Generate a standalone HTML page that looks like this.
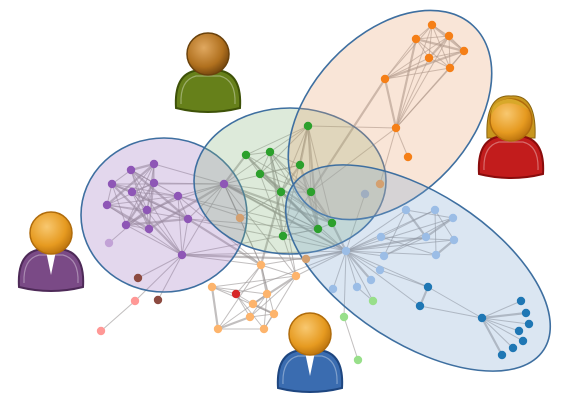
<!DOCTYPE html>
<html><head><meta charset="utf-8">
<style>
html,body{margin:0;padding:0;background:#fff;}
svg{display:block;font-family:"Liberation Sans",sans-serif;}
</style></head>
<body>
<svg id="g" width="568" height="405" viewBox="0 0 568 405" xmlns="http://www.w3.org/2000/svg">
<defs>
<radialGradient id="skin" cx="40%" cy="35%" r="65%"><stop offset="0" stop-color="#f8c870"/><stop offset="0.7" stop-color="#e69a20"/><stop offset="1" stop-color="#c07810"/></radialGradient>
<radialGradient id="skinb" cx="40%" cy="35%" r="65%"><stop offset="0" stop-color="#e0a860"/><stop offset="0.7" stop-color="#b0701e"/><stop offset="1" stop-color="#7a4a10"/></radialGradient>
</defs>
<g id="edges"></g>
<g id="hulls"></g>
<g id="nodes"></g>
<g id="people"></g>
</svg>
<script>
const NS="http://www.w3.org/2000/svg";
// node data: x, y, color group
const nodeX=[131,154,112,132,154,178,107,147,188,126,149,182,109,224, 308,246,270,300,260,281,311,283,318,332, 432,416,449,464,429,450,385,396,408, 240,380,306,365, 261,296,212,267,253,274,250,218,264,236, 346,406,435,453,381,426,454,384,436,380,371,357,333, 373,344,358, 428,420,482,521,526,529,519,523,513,502, 138,158,135,101];
const nodeY=[170,164,184,192,183,196,205,210,219,225,229,255,243,184, 126,155,152,165,174,192,192,236,229,223, 25,39,36,51,58,68,79,128,157, 218,184,259,194, 265,276,287,294,304,314,317,329,329,294, 251,210,210,218,237,237,240,256,255,270,280,287,289, 301,317,360, 287,306,318,301,313,324,331,341,348,355, 278,300,301,331];
const nodeGroup=[0,0,0,0,0,0,0,0,0,0,0,0,1,0, 2,2,2,2,2,2,2,2,2,2, 3,3,3,3,3,3,3,3,3, 4,4,4,5, 6,6,6,6,6,6,6,6,6,7, 8,8,8,8,8,8,8,8,8,8,8,8,8, 9,9,9, 10,10,10,10,10,10,10,10,10,10, 11,11,12,12];
const groupColors=["#8e56b6","#c2a2d6","#2ca02c","#f57f17","#d4a070","#a0aec0","#fdb46c","#d62728","#9bbde6","#98df8a","#1f77b4","#8c4a40","#ff9896"];
// edges as index pairs
const edgeFrom=[];const edgeTo=[];
function addE(a,b){edgeFrom.push(a);edgeTo.push(b);}
const purple=[0,1,2,3,4,5,6,7,8,9,10,11,13];
for(let i=0;i<purple.length;i++)for(let j=i+1;j<purple.length;j++)if((i+j)%3!==0)addE(purple[i],purple[j]);
addE(12,7);addE(11,73);addE(11,74);addE(11,35);addE(75,76);addE(11,75);
const green=[14,15,16,17,18,19,20,21,22,23];
for(let i=0;i<green.length;i++)for(let j=i+1;j<green.length;j++)if((i*j)%2===0)addE(green[i],green[j]);
const orange=[24,25,26,27,28,29,30];
for(let i=0;i<orange.length;i++)for(let j=i+1;j<orange.length;j++)addE(orange[i],orange[j]);
[24,25,26,27,28,29,30,32,34,20].forEach(n=>addE(31,n));
const lo=[37,38,39,40,41,42,43,44,45,46];
for(let i=0;i<lo.length;i++)for(let j=i+1;j<lo.length;j++)if((i+j)%2===1)addE(lo[i],lo[j]);
const lb=[48,49,50,51,52,53,54,55];
for(let i=0;i<lb.length;i++)for(let j=i+1;j<lb.length;j++)if((i+j)%2===0)addE(lb[i],lb[j]);
[48,49,50,51,52,53,54,55,56,57,58,59,60,61,35,36,13,19,22,23,38,37,63,64].forEach(n=>addE(47,n));
[15,16,17,19,22,23,33,37,38].forEach(n=>{addE(13,n);addE(19,n);});
[13,11,8,5].forEach(n=>{addE(n,22);addE(n,37);addE(n,47);});
addE(63,64);addE(63,65);addE(64,65);addE(56,63);
[66,67,68,69,70,71,72].forEach(n=>addE(65,n));
addE(61,62);addE(58,60);addE(21,38);addE(14,31);addE(30,20);addE(46,47);

const eg=document.getElementById('edges');
for(let k=0;k<edgeFrom.length;k++){
  const a=edgeFrom[k],b=edgeTo[k];if(a===b||nodeX[a]===undefined||nodeX[b]===undefined)continue;
  const l=document.createElementNS(NS,'line');
  l.setAttribute('x1',nodeX[a]);l.setAttribute('y1',nodeY[a]);
  l.setAttribute('x2',nodeX[b]);l.setAttribute('y2',nodeY[b]);
  l.setAttribute('stroke','#9a9494');l.setAttribute('stroke-opacity','0.6');
  l.setAttribute('stroke-width',(k%5===0)?2.2:1);
  
  
  eg.appendChild(l);
}
// community ellipses
const hullCx=[164,290,390,418];
const hullCy=[215,181,115,268];
const hullRx=[83,96,122,150];
const hullRy=[77,73,80,75];
const hullAngle=[0,0,-47,33];
const hullFill=["#9b6fc0","#84b27a","#e8a070","#7fa6d0"];
const hullNames=["purple-community","green-community","orange-community","blue-community"];
const hg=document.getElementById('hulls');
for(let i=0;i<hullCx.length;i++){
  const e=document.createElementNS(NS,'ellipse');
  e.setAttribute('cx',hullCx[i]);e.setAttribute('cy',hullCy[i]);
  e.setAttribute('rx',hullRx[i]);e.setAttribute('ry',hullRy[i]);
  e.setAttribute('transform','rotate('+hullAngle[i]+' '+hullCx[i]+' '+hullCy[i]+')');
  e.setAttribute('fill',hullFill[i]);e.setAttribute('fill-opacity','0.28');
  e.setAttribute('stroke','#3e6fa0');e.setAttribute('stroke-width','1.6');
  
  
  hg.appendChild(e);
}
const ng=document.getElementById('nodes');
for(let i=0;i<nodeX.length;i++){
  const c=document.createElementNS(NS,'circle');
  c.setAttribute('cx',nodeX[i]);c.setAttribute('cy',nodeY[i]);c.setAttribute('r',4.2);
  c.setAttribute('fill',groupColors[nodeGroup[i]]);
  
  
  ng.appendChild(c);
}
const avX=[208,511,51,310];
const avY=[54,120,233,334];
const avBody=["#66801a","#c21c1c","#7a4a86","#3a6cb0"];
const avDark=["#3e5208","#8a0c0c","#4e2a58","#1e4680"];
const avNames=["olive-person","red-person","purple-person","blue-person"];
const pg=document.getElementById('people');
for(let i=0;i<avX.length;i++){
  const g=document.createElementNS(NS,'g');
  
  
  const x=avX[i],y=avY[i];
  if(i===1){
    const h=document.createElementNS(NS,'path');
    h.setAttribute('d',`M${x-24},${y+18} Q${x-26},${y-26} ${x},${y-24} Q${x+26},${y-26} ${x+24},${y+18} Z`);
    h.setAttribute('fill','#c8961e');h.setAttribute('stroke','#8a6410');
    g.appendChild(h);
  }
  const b=document.createElementNS(NS,'path');
  b.setAttribute('d',`M${x-32},${y+54} Q${x-34},${y+22} ${x-14},${y+17} L${x+14},${y+17} Q${x+34},${y+22} ${x+32},${y+54} Q${x},${y+62} ${x-32},${y+54} Z`);
  b.setAttribute('fill',avBody[i]);b.setAttribute('stroke',avDark[i]);b.setAttribute('stroke-width','2');
  g.appendChild(b);
  const b2=document.createElementNS(NS,'path');
  b2.setAttribute('d',`M${x-27},${y+50} Q${x-28},${y+26} ${x-12},${y+22} L${x+12},${y+22} Q${x+28},${y+26} ${x+27},${y+50}`);
  b2.setAttribute('fill','none');b2.setAttribute('stroke','#ffffff');b2.setAttribute('stroke-opacity','0.35');b2.setAttribute('stroke-width','1.2');
  g.appendChild(b2);
  if(i===2||i===3){
    const s=document.createElementNS(NS,'path');
    s.setAttribute('d',`M${x-5},${y+18} L${x},${y+42} L${x+5},${y+18} Z`);
    s.setAttribute('fill','#ffffff');
    g.appendChild(s);
  }
  const c=document.createElementNS(NS,'circle');
  c.setAttribute('cx',x);c.setAttribute('cy',y);c.setAttribute('r',21);
  c.setAttribute('fill',i===0?'url(#skinb)':'url(#skin)');c.setAttribute('stroke',i===0?'#6a420c':'#b06c0c');c.setAttribute('stroke-width','1.5');
  g.appendChild(c);
  if(i===1){
    const f=document.createElementNS(NS,'path');
    f.setAttribute('d',`M${x-20},${y-4} Q${x-10},${y-26} ${x+18},${y-10} Q${x+8},${y-22} ${x-4},${y-21} Q${x-20},${y-18} ${x-20},${y-4} Z`);
    f.setAttribute('fill','#d8a82a');
    g.appendChild(f);
  }
  pg.appendChild(g);
}
</script>
</body></html>
